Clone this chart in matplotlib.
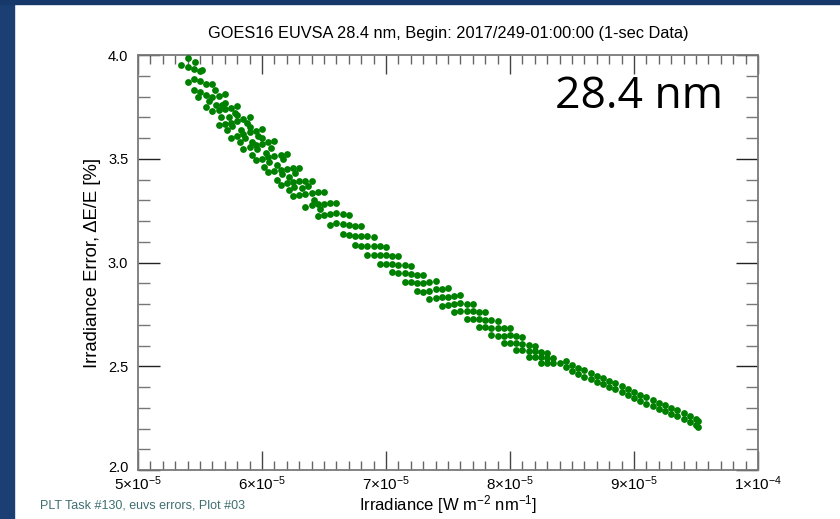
import matplotlib
matplotlib.use('Agg')
import matplotlib.pyplot as plt
from matplotlib.patches import Rectangle
from matplotlib.ticker import FixedLocator, MultipleLocator
from matplotlib.transforms import ScaledTranslation
import numpy as np

plt.rcParams['font.family'] = ['Liberation Sans', 'DejaVu Sans']
plt.rcParams['mathtext.default'] = 'regular'

# irradiance in units of 1e-5 W m^-2 nm^-1, error in percent
# the 1-sec samples fall on a few parallel tracks
trk1_x = [5.40, 5.50, 5.60, 5.70, 5.80, 5.90, 6.00, 6.10, 6.20, 6.30, 6.40, 6.50, 6.60, 6.70, 6.80,
          6.90, 7.00, 7.10, 7.20, 7.30, 7.40, 7.50, 7.60, 7.70, 7.80, 7.90, 8.00, 8.10, 8.20, 8.30]
trk1_y = [3.985, 3.925, 3.86, 3.81, 3.755, 3.70, 3.645, 3.585, 3.525, 3.455, 3.395, 3.34, 3.285, 3.23, 3.175,
          3.125, 3.075, 3.03, 2.985, 2.94, 2.91, 2.875, 2.841, 2.80, 2.76, 2.72, 2.685, 2.64, 2.60, 2.565]

trk2_x = [5.45, 5.55, 5.65, 5.75, 5.85, 5.95, 6.05, 6.15, 6.25, 6.35, 6.45, 6.55, 6.65, 6.75, 6.85,
          6.95, 7.05, 7.15, 7.25, 7.35, 7.45, 7.55, 7.65, 7.75, 7.85, 7.95, 8.05, 8.15, 8.25, 8.35]
trk2_y = [3.931, 3.862, 3.801, 3.746, 3.691, 3.636, 3.579, 3.519, 3.456, 3.394, 3.338, 3.286, 3.233, 3.178, 3.127,
          3.078, 3.032, 2.987, 2.942, 2.905, 2.872, 2.839, 2.802, 2.762, 2.722, 2.684, 2.645, 2.604, 2.569, 2.539]

trk3_x = [5.40, 5.50, 5.60, 5.70, 5.80, 5.90, 6.00, 6.10, 6.20, 6.30, 6.40, 6.50, 6.60, 6.70, 6.80, 6.90,
          7.00, 7.10, 7.20, 7.30, 7.40, 7.50, 7.60, 7.70, 7.80, 7.90, 8.00, 8.10, 8.20, 8.30, 8.40]
trk3_y = [3.941, 3.873, 3.796, 3.738, 3.683, 3.628, 3.573, 3.513, 3.453, 3.391, 3.335, 3.284, 3.237, 3.182, 3.127, 3.081,
          3.035, 2.99, 2.945, 2.90, 2.87, 2.835, 2.804, 2.764, 2.724, 2.684, 2.649, 2.608, 2.572, 2.541, 2.515]

trk4_x = [5.45, 5.55, 5.65, 5.75, 5.85, 5.95, 6.05, 6.15, 6.25, 6.35, 6.45, 6.55, 6.65, 6.75, 6.85,
          6.95, 7.05, 7.15, 7.25, 7.35, 7.45, 7.55, 7.65, 7.75, 7.85, 7.95, 8.05, 8.15, 8.25, 8.35]
trk4_y = [3.883, 3.806, 3.733, 3.674, 3.619, 3.564, 3.507, 3.447, 3.388, 3.331, 3.281, 3.234, 3.185, 3.13, 3.08,
          3.037, 2.992, 2.947, 2.902, 2.865, 2.832, 2.80, 2.766, 2.726, 2.686, 2.648, 2.612, 2.575, 2.544, 2.516]

trk5_x = [5.50, 5.60, 5.70, 5.80, 5.90, 6.00, 6.10, 6.20, 6.30, 6.40, 6.50, 6.60, 6.70, 6.80, 6.90,
          7.00, 7.10, 7.20, 7.30, 7.40, 7.50, 7.60, 7.70, 7.80, 7.90, 8.00, 8.10, 8.20, 8.30]
trk5_y = [3.821, 3.732, 3.666, 3.611, 3.556, 3.501, 3.441, 3.381, 3.327, 3.275, 3.228, 3.189, 3.134, 3.079, 3.037,
          2.995, 2.95, 2.905, 2.86, 2.83, 2.795, 2.767, 2.728, 2.688, 2.648, 2.613, 2.576, 2.544, 2.517]

trk6_x = [5.55, 5.65, 5.75, 5.85, 5.95, 6.05, 6.15, 6.25, 6.35, 6.45, 6.55, 6.65, 6.75, 6.85,
          6.95, 7.05, 7.15, 7.25, 7.35, 7.45, 7.55, 7.65, 7.75, 7.85, 7.95, 8.05, 8.15, 8.25]
trk6_y = [3.75, 3.665, 3.602, 3.547, 3.492, 3.435, 3.375, 3.32, 3.269, 3.223, 3.182, 3.137, 3.082, 3.034,
          2.995, 2.952, 2.907, 2.862, 2.825, 2.792, 2.762, 2.73, 2.69, 2.65, 2.612, 2.578, 2.545, 2.518]

# high-irradiance end: samples come in close pairs
tail_b_x = [8.45, 8.55, 8.65, 8.75, 8.85, 8.95, 9.05, 9.15, 9.25, 9.35, 9.45]
tail_b_y = [2.524, 2.493, 2.468, 2.443, 2.418, 2.39, 2.363, 2.338, 2.313, 2.288, 2.26]
tail_g_x = [8.45, 8.55, 8.65, 8.75, 8.85, 8.95, 9.05, 9.15, 9.25, 9.35, 9.45, 9.52]
tail_g_y = [2.494, 2.463, 2.438, 2.413, 2.388, 2.36, 2.333, 2.308, 2.283, 2.258, 2.23, 2.205]
tail_c_x = [8.50, 8.60, 8.70, 8.80, 8.90, 9.00, 9.10, 9.20, 9.30, 9.40, 9.50]
tail_c_y = [2.475, 2.45, 2.425, 2.40, 2.375, 2.345, 2.32, 2.295, 2.27, 2.245, 2.215]
tail_h_x = [8.50, 8.60, 8.70, 8.80, 8.90, 9.00, 9.10, 9.20, 9.30, 9.40, 9.50, 9.52]
tail_h_y = [2.505, 2.48, 2.455, 2.43, 2.405, 2.375, 2.35, 2.325, 2.30, 2.275, 2.245, 2.235]

# extra samples in the dense low-irradiance part
extra_x = [5.35, 5.46, 5.52, 5.40, 5.45, 5.48, 5.57, 5.62, 5.67, 5.68, 5.72, 5.73, 5.78, 5.82, 5.83,
           5.88, 5.92, 5.92, 5.97, 6.02, 6.03, 6.07, 6.12, 6.12, 6.17, 6.22, 6.22, 6.27, 6.32, 6.37,
           6.42, 6.47, 5.63, 5.76, 5.86, 5.96, 6.06, 6.16, 6.26, 5.70, 5.80, 5.90, 6.00]
extra_y = [3.95, 3.965, 3.93, 3.87, 3.83, 3.80, 3.78, 3.83, 3.70, 3.76, 3.64, 3.70, 3.72, 3.58, 3.64,
           3.67, 3.58, 3.52, 3.61, 3.46, 3.53, 3.55, 3.47, 3.40, 3.50, 3.41, 3.35, 3.43, 3.36, 3.37,
           3.30, 3.26, 3.76, 3.66, 3.60, 3.545, 3.485, 3.425, 3.365, 3.77, 3.71, 3.655, 3.60]

xs = [trk1_x, trk2_x, trk3_x, trk4_x, trk5_x, trk6_x, tail_b_x, tail_g_x, tail_c_x, tail_h_x, extra_x]
ys = [trk1_y, trk2_y, trk3_y, trk4_y, trk5_y, trk6_y, tail_b_y, tail_g_y, tail_c_y, tail_h_y, extra_y]
irr = np.concatenate([np.array(v) for v in xs]) * 1e-5
err = np.concatenate([np.array(v) for v in ys])

xticks = [5e-5, 6e-5, 7e-5, 8e-5, 9e-5, 1e-4]
xticklabels = ['5×10$^{-5}$', '6×10$^{-5}$', '7×10$^{-5}$', '8×10$^{-5}$', '9×10$^{-5}$', '1×10$^{-4}$']
yticks = [2.0, 2.5, 3.0, 3.5, 4.0]

fig = plt.figure(figsize=(8.4, 5.19), dpi=100)
fig.patch.set_facecolor('white')
# slide frame: blue strip on the left and along the top
fig.patches.append(Rectangle((0, 0), 14 / 840, 1, transform=fig.transFigure, color='#1c3f73', zorder=0))
fig.patches.append(Rectangle((0, 1 - 4 / 519), 1, 4 / 519, transform=fig.transFigure, color='#16386a', zorder=0))

ax = fig.add_axes([138 / 840, 1 - 470 / 519, 620 / 840, 415 / 519])
ax.scatter(irr, err, s=24, color='#008000', linewidths=0, zorder=3)

ax.set_xlim(5e-5, 1e-4)
ax.set_ylim(2.0, 4.0)
ax.xaxis.set_major_locator(FixedLocator(xticks))
ax.set_xticklabels(xticklabels)
ax.xaxis.set_minor_locator(MultipleLocator(1e-6))
ax.yaxis.set_major_locator(FixedLocator(yticks))
ax.set_yticklabels(['%.1f' % v for v in yticks])
ax.yaxis.set_minor_locator(MultipleLocator(0.1))

for s in ax.spines.values():
    s.set_color('#7a7a7a')
    s.set_linewidth(1.3)
ax.tick_params(axis='x', which='major', direction='in', length=13.5, width=1.0, color='#444444',
               top=True, bottom=True, labelsize=11, pad=3.5)
ax.tick_params(axis='x', which='minor', direction='in', length=6.5, width=1.0, color='#666666',
               top=True, bottom=True)
ax.tick_params(axis='y', which='major', direction='in', length=16, width=1.0, color='#222222',
               left=True, right=True, labelsize=10.5, pad=7)
ax.tick_params(axis='y', which='minor', direction='in', length=8.5, width=1.0, color='#777777',
               left=True, right=True)

# lift the bottom y label a little so it clears the first x label
lab0 = ax.yaxis.get_major_ticks()[0].label1
lab0.set_transform(lab0.get_transform() + ScaledTranslation(0, 4 / 100, fig.dpi_scale_trans))

ax.set_xlabel('Irradiance [W m$^{-2}$ nm$^{-1}$]', fontsize=12, labelpad=0)
ax.set_ylabel('Irradiance Error, ΔE/E [%]', fontsize=13.3, labelpad=5)
ax.set_title('GOES16 EUVSA 28.4 nm, Begin: 2017/249-01:00:00 (1-sec Data)', fontsize=11.8, pad=12)

ax.text(585 / 620, (470 - 108) / 415, '28.4 nm', transform=ax.transAxes, ha='right', va='baseline',
        fontsize=32, family=['Open Sans', 'DejaVu Sans'], color='black')

fig.text(40 / 840, 1 - 505 / 519, 'PLT Task #130, euvs errors, Plot #03', fontsize=9,
         color='#3f6f70', va='center', ha='left')

fig.savefig('out.png', dpi=100, facecolor=fig.get_facecolor())
